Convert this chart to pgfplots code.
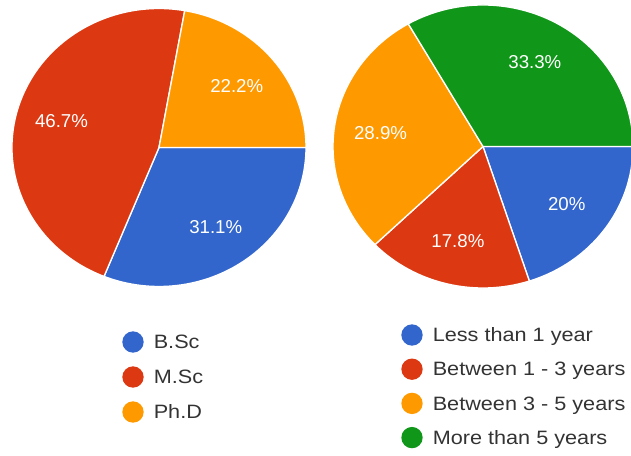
\documentclass[border=0pt]{standalone}
\usepackage{fontspec}
\setmainfont{Liberation Sans}
\usepackage{pgfplots}
\usepackage{pgfplotstable}
\pgfplotsset{compat=1.18}

\definecolor{gblue}{HTML}{3366CC}
\definecolor{gred}{HTML}{DC3912}
\definecolor{gorange}{HTML}{FF9900}
\definecolor{ggreen}{HTML}{109618}
\definecolor{legtext}{HTML}{333333}

% share of respondents, in percent
\pgfplotstableread[col sep=comma]{
label,value,color
B.Sc,31.1,gblue
M.Sc,46.7,gred
Ph.D,22.2,gorange
}\degree

\pgfplotstableread[col sep=comma]{
label,value,color
Less than 1 year,20,gblue
Between 1 - 3 years,17.8,gred
Between 3 - 5 years,28.9,gorange
More than 5 years,33.3,ggreen
}\experience

\tikzset{
  labfont/.style={text=white, font=\fontsize{14}{16}\selectfont, inner sep=0pt, anchor=base},
  legfont/.style={text=legtext, font=\fontsize{14.5}{17}\selectfont, inner sep=0pt, anchor=base west, xscale=1.12},
}

% #1 table, #2,#3 centre, #4,#5 radii (axis units), #6 legend x, #7 legend top y, #8 row step
\newcommand\pie[8]{%
  \pgfplotstablegetrowsof{#1}%
  \pgfmathtruncatemacro\lastrow{\pgfplotsretval-1}%
  \def\acc{0}%
  \def\labels{}%
  \pgfmathsetmacro\rx{0.75*#4}%
  \pgfmathsetmacro\ry{0.75*#5}%
  \pgfmathsetmacro\lrx{0.69*\rx}%
  \pgfmathsetmacro\lry{0.69*\ry}%
  \pgfplotsforeachungrouped \rowi in {0,...,\lastrow}{%
    \pgfplotstablegetelem{\rowi}{value}\of{#1}\let\val\pgfplotsretval
    \pgfplotstablegetelem{\rowi}{color}\of{#1}\let\col\pgfplotsretval
    \pgfplotstablegetelem{\rowi}{label}\of{#1}\let\lab\pgfplotsretval
    \pgfmathsetmacro\aS{-3.6*\acc}%
    \pgfmathsetmacro\aE{-3.6*(\acc+\val)}%
    \pgfmathsetmacro\aM{(\aS+\aE)/2}%
    \pgfmathsetmacro\acc{\acc+\val}%
    \pgfmathsetmacro\ly{#7-\rowi*#8}%
    \pgfmathsetmacro\lty{\ly-6.6}%
    \pgfmathsetmacro\ltx{#6+20.5}%
    \edef\cmd{%
      \noexpand\fill[\col, draw=white, line width=1pt] (axis cs:#2,#3)
        -- ++(\aS:\rx pt and \ry pt)
        arc[start angle=\aS, end angle=\aE, x radius=\rx pt, y radius=\ry pt] -- cycle;
      \noexpand\fill[\col] (axis cs:#6,\ly) circle[radius=8pt];
      \noexpand\node[legfont] at (axis cs:\ltx,\lty) {\lab};
    }\cmd
    \edef\labels{\unexpanded\expandafter{\labels}%
      \noexpand\path (axis cs:#2,#3) ++(\aM:\lrx pt and \lry pt)
        node[labfont, yshift=-5pt] {\val\noexpand\%};}%
  }%
  \labels
}

\begin{document}
\begin{tikzpicture}
\begin{axis}[
    scale only axis,
    width=473.25pt, height=341.25pt,
    xmin=0, xmax=631, ymin=0, ymax=455,
    hide axis, clip=false,
]
\pie{\degree}{159}{307.5}{147}{139}{133}{113}{35}
\pie{\experience}{483}{308.5}{150}{141.5}{412}{120}{34.2}
\end{axis}
\pgfresetboundingbox
\path (current axis.south west) rectangle (current axis.north east);
\end{tikzpicture}
\end{document}
